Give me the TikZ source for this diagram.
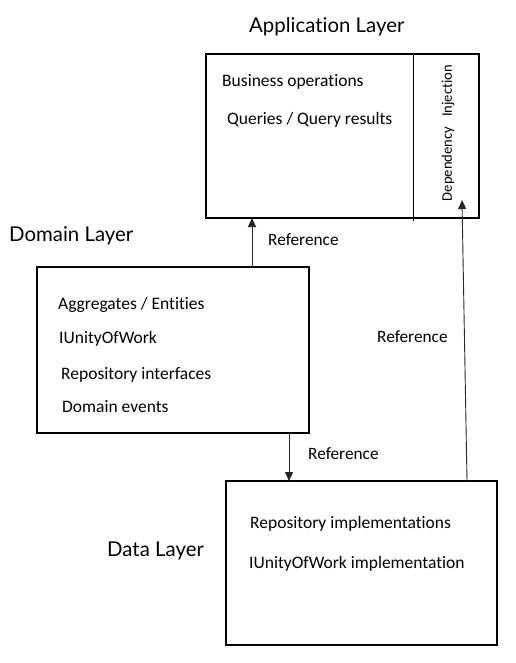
\documentclass[tikz,border=0pt]{standalone}
\usepackage{fontspec}
\setmainfont{Carlito}[Ligatures=NoCommon]
\newfontfamily\titlefont{Lato}[Ligatures=NoCommon]
\usetikzlibrary{arrows.meta}

\begin{document}
\begin{tikzpicture}[x=1pt, y=-1pt]
    \tikzset{
        layerbox/.style={draw, line width=2pt, inner sep=0pt, outer sep=0pt, anchor=north west},
        layertitle/.style={anchor=base west, inner sep=0pt, font=\titlefont\fontsize{20.4}{24}\selectfont},
        itemtext/.style={anchor=base west, inner sep=0pt, font=\fontsize{17.5}{20}\selectfont},
        reftext/.style={anchor=base west, inner sep=0pt, font=\fontsize{17.3}{20}\selectfont},
        refarrow/.style={draw=black!85, line width=0.9pt, -{Triangle[length=9pt, width=8pt]}}
    }

    \useasboundingbox (0,0) rectangle (515,663);

    % --- 1. APPLICATION ---
    \node[layertitle] (apptitle) at (249,33) {Application Layer};
    \node[layerbox, minimum width=273pt, minimum height=164pt] (app) at (206,54) {};
    \coordinate (divX) at (413,0);
    \draw[line width=0.8pt] (divX |- app.north) -- (413,221);

    \node[itemtext] (business) at (222,87) {Business operations};
    \node[itemtext] (queries) at (227,125) {Queries / Query results};
    \node[rotate=90, inner sep=0pt, font=\fontsize{14.6}{16}\selectfont] (di) at (448,133) {Dependency\hspace{0.45em} Injection};

    % --- 2. DOMAIN ---
    \node[layertitle] (domaintitle) at (9,241) {Domain Layer};
    \node[layerbox, minimum width=272pt, minimum height=166pt] (domain) at (37,267) {};

    \node[itemtext] (aggregates) at (58,309) {Aggregates / Entities};
    \node[itemtext] (unity) at (59,343) {IUnityOfWork};
    \node[itemtext] (repoint) at (61,379) {Repository interfaces};
    \node[itemtext] (events) at (62,412) {Domain events};

    % --- 3. DATA ---
    \node[layertitle] (datatitle) at (107,556) {Data Layer};
    \node[layerbox, minimum width=271pt, minimum height=164pt] (data) at (226,481) {};

    \node[itemtext] (repoimpl) at (250,528) {Repository implementations};
    \node[itemtext] (unityimpl) at (249,568) {IUnityOfWork implementation};

    % References
    \coordinate (upX) at (252,0);
    \coordinate (downX) at (289,0);
    \coordinate (diFoot) at (467,0);
    \coordinate (diTip) at (462,200);

    \draw[refarrow] (upX |- domain.north) -- (upX |- app.south);
    \draw[refarrow] (downX |- domain.south) -- (downX |- data.north);
    \draw[refarrow] (diFoot |- data.north) -- (diTip);

    \node[reftext] (ref1) at (268,245) {Reference};
    \node[reftext] (ref2) at (377,342) {Reference};
    \node[reftext] (ref3) at (308,459) {Reference};

\end{tikzpicture}
\end{document}
